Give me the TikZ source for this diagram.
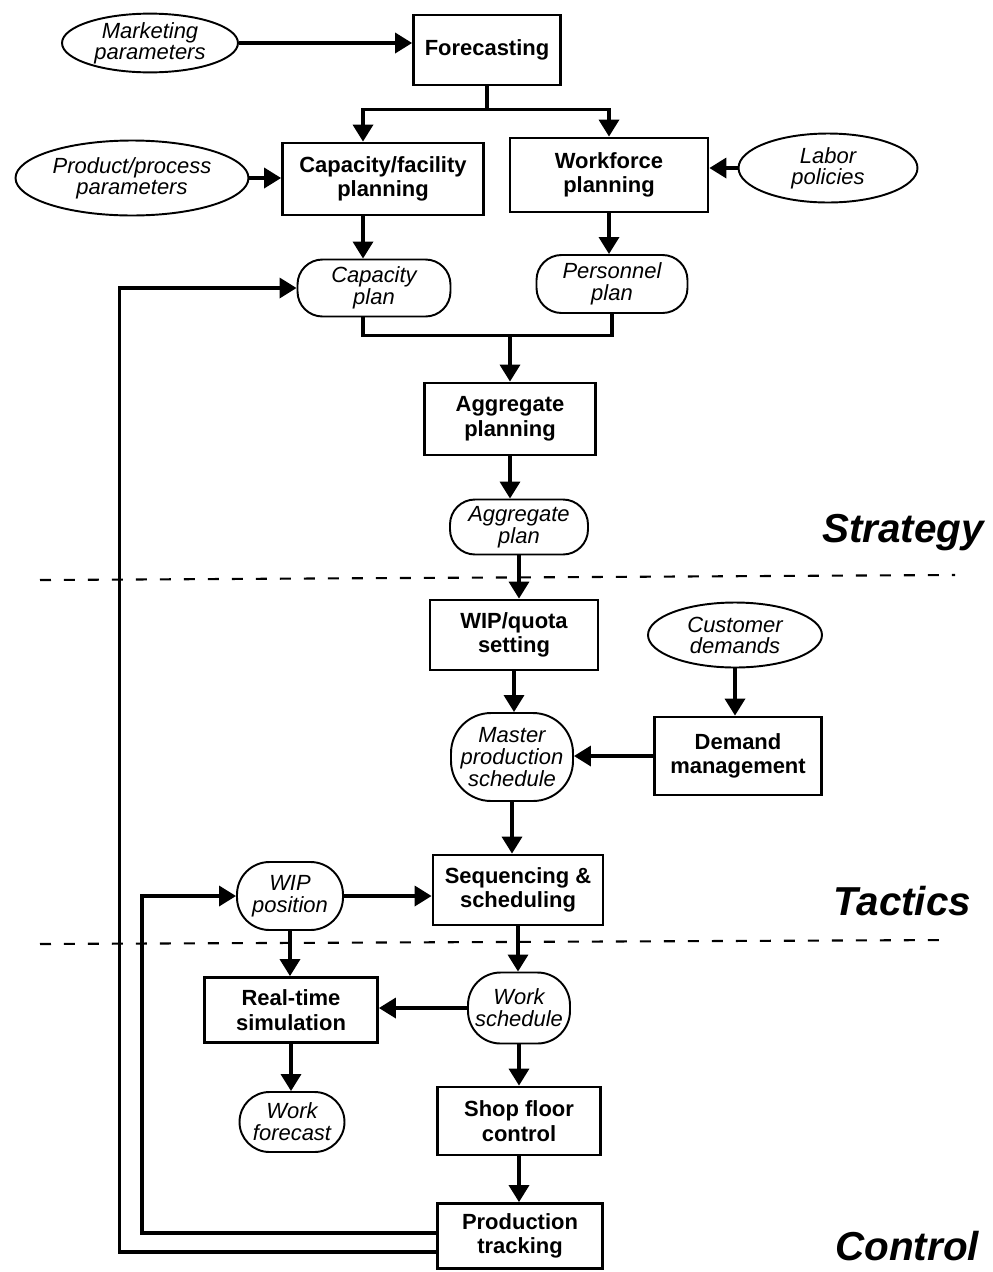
\documentclass[tikz,border=0pt]{standalone}
\usepackage{fontspec}
\setmainfont{Liberation Sans}
\usetikzlibrary{arrows.meta,shapes.geometric}

\begin{document}
\begin{tikzpicture}[x=0.02cm,y=-0.02cm,
  >={Triangle[width=0.4cm,length=0.34cm]},
  proc/.style={draw,line width=1.6pt,inner sep=0pt,align=center,font=\bfseries\fontsize{12.5}{14}\selectfont},
  param/.style={draw,ellipse,line width=1.1pt,inner sep=0pt,align=center,font=\itshape\fontsize{12.5}{12}\selectfont},
  plan/.style={draw,rounded corners=0.5cm,line width=1.1pt,inner sep=0pt,align=center,font=\itshape\fontsize{12.5}{12.5}\selectfont},
  flow/.style={->,line width=2pt},
  level/.style={font=\bfseries\itshape\fontsize{23}{23}\selectfont,inner sep=0pt,anchor=base west},
  divider/.style={line width=1.2pt,dash pattern=on 0.22cm off 0.26cm}]
  \useasboundingbox (0,0) rectangle (993,1272);
  \draw[divider] (40,580) -- (955,575);
  \draw[divider] (40,944) -- (950,940);
  \node[proc,minimum width=2.94cm,minimum height=1.4cm] (fcst) at (487,50) {Forecasting};
  \node[param,minimum width=3.52cm,minimum height=1.14cm] (mkt) at (150,43) {Marketing\\parameters};
  \node[proc,minimum width=4.02cm,minimum height=1.44cm] (capfac) at (383,179) {Capacity/facility\\planning};
  \node[proc,minimum width=3.96cm,minimum height=1.48cm] (wforce) at (609,175) {Workforce\\planning};
  \node[param,minimum width=4.66cm,minimum height=1.5cm] (prodpar) at (132,178) {Product/process\\parameters};
  \node[param,minimum width=3.58cm,minimum height=1.38cm] (labor) at (828,168) {Labor\\policies};
  \node[plan,minimum width=3.06cm,minimum height=1.14cm] (capplan) at (374,288) {Capacity\\plan};
  \node[plan,minimum width=3.02cm,minimum height=1.16cm] (persplan) at (612,284) {Personnel\\plan};
  \node[proc,minimum width=3.42cm,minimum height=1.44cm] (aggplanning) at (510,419) {Aggregate\\planning};
  \node[plan,minimum width=2.76cm,minimum height=1.1cm] (aggplan) at (519,527) {Aggregate\\plan};
  \node[proc,minimum width=3.36cm,minimum height=1.4cm] (wipquota) at (514,635) {WIP/quota\\setting};
  \node[param,minimum width=3.48cm,minimum height=1.3cm] (custdem) at (735,635) {Customer\\demands};
  \node[proc,minimum width=3.34cm,minimum height=1.56cm] (demmgmt) at (738,756) {Demand\\management};
  \node[plan,rounded corners=0.8cm,minimum width=2.44cm,minimum height=1.76cm] (mps) at (512,757) {Master\\production\\schedule};
  \node[proc,minimum width=3.4cm,minimum height=1.4cm] (seqsched) at (518,890) {Sequencing \&\\scheduling};
  \node[plan,rounded corners=0.65cm,minimum width=2.12cm,minimum height=1.36cm] (wippos) at (290,896) {WIP\\position};
  \node[plan,rounded corners=0.65cm,minimum width=2.04cm,minimum height=1.42cm] (worksched) at (519,1008) {Work\\schedule};
  \node[proc,minimum width=3.46cm,minimum height=1.3cm] (rtsim) at (291,1010) {Real-time\\simulation};
  \node[plan,rounded corners=0.6cm,minimum width=2.1cm,minimum height=1.2cm] (workfc) at (292,1122) {Work\\forecast};
  \node[proc,minimum width=3.26cm,minimum height=1.36cm] (shopfloor) at (519,1121) {Shop floor\\control};
  \node[proc,minimum width=3.3cm,minimum height=1.3cm] (prodtrack) at (520,1236) {Production\\tracking};
  \node[level] (strategy) at (822,542) {Strategy};
  \node[level] (tactics) at (833,915) {Tactics};
  \node[level] (control) at (835,1260) {Control};
  \path (fcst.south) ++(0,23) coordinate (fsplit);
  \path (aggplanning.north) ++(0,-46) coordinate (join);
  \path (wippos.west) ++(-94,0) coordinate (innerloop);
  \path (capplan.west) ++(-177,0) coordinate (outerloop);
  \draw[flow] (mkt.east) -- (mkt.east -| fcst.west);
  \draw[line width=2pt] (fcst.south) -- (fsplit);
  \draw[flow] (fsplit) -| ([xshift=-0.4cm]capfac.north);
  \draw[flow] (fsplit) -| (wforce.north);
  \draw[flow] (prodpar.east) -- (prodpar.east -| capfac.west);
  \draw[flow] (labor.west) -- (labor.west -| wforce.east);
  \draw[flow] ([xshift=-0.4cm]capfac.south) -- ([xshift=-0.4cm]capfac.south |- capplan.north);
  \draw[flow] (wforce.south) -- (wforce.south |- persplan.north);
  \draw[line width=2pt] ([xshift=-0.22cm]capplan.south) |- (join) -| (persplan.south);
  \draw[flow] (join) -- (aggplanning.north);
  \draw[flow] (aggplanning.south) -- (aggplanning.south |- aggplan.north);
  \draw[flow] (aggplan.south) -- (aggplan.south |- wipquota.north);
  \draw[flow] (wipquota.south) -- (wipquota.south |- mps.north);
  \draw[flow] (custdem.south) -- (custdem.south |- demmgmt.north);
  \draw[flow] (demmgmt.west) -- (demmgmt.west -| mps.east);
  \draw[flow] (mps.south) -- (mps.south |- seqsched.north);
  \draw[flow] (wippos.east) -- (wippos.east -| seqsched.west);
  \draw[flow] (seqsched.south) -- (seqsched.south |- worksched.north);
  \draw[flow] (worksched.west) -- (worksched.west -| rtsim.east);
  \draw[flow] (wippos.south) -- (wippos.south |- rtsim.north);
  \draw[flow] (rtsim.south) -- (rtsim.south |- workfc.north);
  \draw[flow] (worksched.south) -- (worksched.south |- shopfloor.north);
  \draw[flow] (shopfloor.south) -- (shopfloor.south |- prodtrack.north);
  \draw[flow] ([yshift=0.06cm]prodtrack.west) -| (innerloop) -- (wippos.west);
  \draw[flow] ([yshift=-0.32cm]prodtrack.west) -| (outerloop) -- (capplan.west);
\end{tikzpicture}
\end{document}
